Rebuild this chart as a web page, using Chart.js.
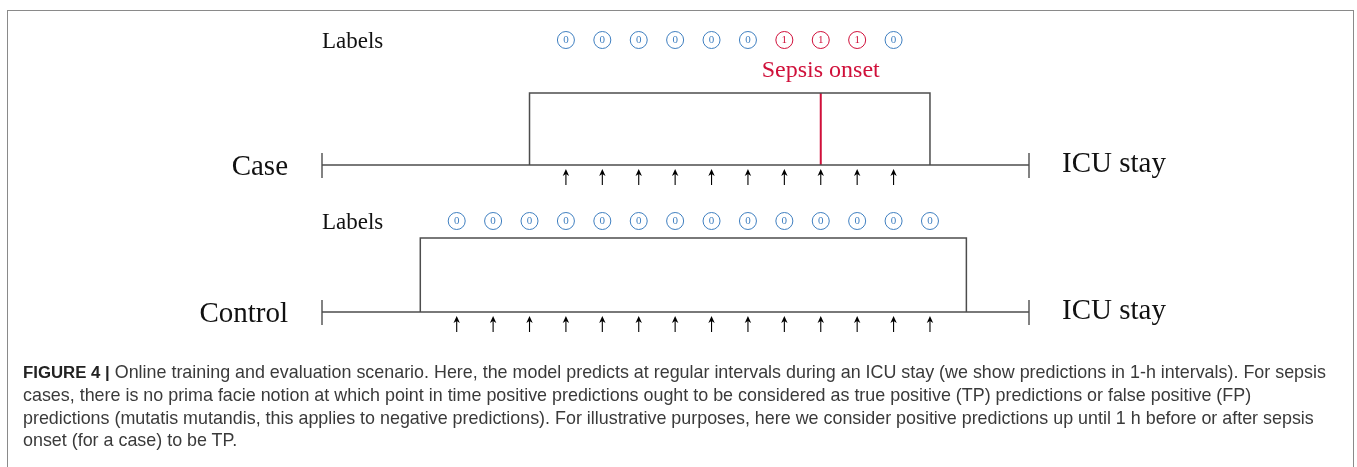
<!DOCTYPE html>
<html>
<head>
<meta charset="utf-8">
<script src="https://cdn.jsdelivr.net/npm/chart.js@4/dist/chart.umd.min.js"></script>
<style>
  html, body { margin:0; padding:0; background:#fff; }
  #wrap { position:relative; width:1357px; height:467px; overflow:hidden; }
  #frame { position:absolute; left:7px; top:10px; width:1345px; height:520px;
           border:1.5px solid #8a8a8a; border-bottom:none; }
  #diagram { position:absolute; left:0; top:0; }
  #caption { position:absolute; left:23px; top:361px; font-family:"Liberation Sans", Arial, sans-serif;
             font-size:17.9px; line-height:22.4px; color:#3a3a3a; white-space:nowrap; }
  #caption b { color:#222; font-size:16.8px; }
</style>
</head>
<body>
<div id="wrap">
  <div id="frame"></div>
  <canvas id="diagram" width="1357" height="467"></canvas>
  <div id="caption">
    <div><b>FIGURE 4 |</b> Online training and evaluation scenario. Here, the model predicts at regular intervals during an ICU stay (we show predictions in 1-h intervals). For sepsis</div>
    <div>cases, there is no prima facie notion at which point in time positive predictions ought to be considered as true positive (TP) predictions or false positive (FP)</div>
    <div>predictions (mutatis mutandis, this applies to negative predictions). For illustrative purposes, here we consider positive predictions up until 1 h before or after sepsis</div>
    <div>onset (for a case) to be TP.</div>
  </div>
</div>
<script>
// -------- data (hours since ICU admission) --------
const stayStart = 0;
const stayEnd = 19.42;

const caseWindow  = [5.7, 16.7];
const caseHours   = [6.7, 7.7, 8.7, 9.7, 10.7, 11.7, 12.7, 13.7, 14.7, 15.7];
const caseLabels  = [0, 0, 0, 0, 0, 0, 1, 1, 1, 0];
const sepsisOnset = 13.7;

const controlWindow = [2.7, 17.7];
const controlHours  = [3.7, 4.7, 5.7, 6.7, 7.7, 8.7, 9.7, 10.7, 11.7, 12.7, 13.7, 14.7, 15.7, 16.7];
const controlLabels = [0, 0, 0, 0, 0, 0, 0, 0, 0, 0, 0, 0, 0, 0];

// -------- layout / styles --------
// vertical layout of each row (y scale runs top→bottom in px units)
const ROW = {
  Case:    { line:165, top:93,  labels:40  },
  Control: { line:312, top:238, labels:221 }
};
const ONSET_TEXT_Y = 69;
const GREY = '#4d4d4d';
const BLUE = '#3f7fc0';
const RED  = '#d0103a';
const SERIF = '"Liberation Serif", "Times New Roman", serif';

const labelColor = v => v === 1 ? RED : BLUE;

function lineSet(points, color, width){
  return { type:'scatter', data:points, showLine:true, borderColor:color, borderWidth:width,
           pointRadius:0, fill:false, tension:0 };
}

function rowDatasets(name, win, hours, labels){
  const r = ROW[name];
  return [
    lineSet([{x:stayStart, y:r.line}, {x:stayEnd, y:r.line}], GREY, 1.5),
    lineSet([{x:win[0], y:r.line}, {x:win[0], y:r.top}, {x:win[1], y:r.top}, {x:win[1], y:r.line}], GREY, 1.5),
    {
      type:'scatter',
      data: hours.map(h => ({x:h, y:r.labels})),
      pointRadius:8.5, pointStyle:'circle', pointBorderWidth:1,
      pointBorderColor: labels.map(labelColor),
      pointBackgroundColor:'#fff'
    }
  ];
}

const datasets = [
  ...rowDatasets('Case', caseWindow, caseHours, caseLabels),
  lineSet([{x:sepsisOnset, y:ROW.Case.top}, {x:sepsisOnset, y:ROW.Case.line}], RED, 2),
  ...rowDatasets('Control', controlWindow, controlHours, controlLabels)
];

// ticks, arrows and text drawn on top, positioned through the chart scales
const annotate = {
  id:'annotate',
  afterDatasetsDraw(chart){
    const {ctx, scales:{x, y}} = chart;
    const rows = [
      { name:'Case', hours:caseHours, labels:caseLabels },
      { name:'Control', hours:controlHours, labels:controlLabels }
    ];
    ctx.save();
    rows.forEach(row => {
      const r = ROW[row.name];
      const ly = y.getPixelForValue(r.line);
      const x0 = x.getPixelForValue(stayStart);
      const x1 = x.getPixelForValue(stayEnd);

      // end ticks of the ICU stay
      ctx.strokeStyle = GREY; ctx.lineWidth = 1.4;
      [x0, x1].forEach(px => {
        ctx.beginPath(); ctx.moveTo(px, ly - 12); ctx.lineTo(px, ly + 13); ctx.stroke();
      });

      // prediction arrows
      ctx.strokeStyle = '#000'; ctx.fillStyle = '#000'; ctx.lineWidth = 1.1;
      row.hours.forEach(h => {
        const px = x.getPixelForValue(h);
        const top = ly + 4, bot = ly + 20;
        ctx.beginPath(); ctx.moveTo(px, top + 3); ctx.lineTo(px, bot); ctx.stroke();
        ctx.beginPath();
        ctx.moveTo(px, top);
        ctx.lineTo(px + 3.2, top + 7);
        ctx.lineTo(px, top + 5);
        ctx.lineTo(px - 3.2, top + 7);
        ctx.closePath(); ctx.fill();
      });

      // digits in label circles
      ctx.font = '11px ' + SERIF;
      ctx.textAlign = 'center'; ctx.textBaseline = 'middle';
      row.hours.forEach((h, i) => {
        ctx.fillStyle = labelColor(row.labels[i]);
        ctx.fillText(String(row.labels[i]), x.getPixelForValue(h), y.getPixelForValue(r.labels) + 0.5);
      });

      // texts
      ctx.fillStyle = '#111';
      ctx.textBaseline = 'alphabetic';
      ctx.font = '23px ' + SERIF;
      ctx.textAlign = 'left';
      ctx.fillText('Labels', x0, y.getPixelForValue(r.labels) + 7.5);
      ctx.font = '29px ' + SERIF;
      ctx.textAlign = 'right';
      ctx.fillText(row.name, x0 - 34, ly + 10);
      ctx.textAlign = 'left';
      ctx.fillText('ICU stay', x1 + 33, ly + 7);
    });

    ctx.fillStyle = RED;
    ctx.font = '24px ' + SERIF;
    ctx.textAlign = 'center';
    ctx.textBaseline = 'alphabetic';
    ctx.fillText('Sepsis onset', x.getPixelForValue(sepsisOnset), y.getPixelForValue(ONSET_TEXT_Y) + 8);
    ctx.restore();
  }
};

new Chart(document.getElementById('diagram'), {
  type:'scatter',
  data:{ datasets },
  options:{
    responsive:false, animation:false, devicePixelRatio:1,
    layout:{ autoPadding:false, padding:{ left:322, right:328, top:0, bottom:0 } },
    plugins:{ legend:{ display:false }, tooltip:{ enabled:false } },
    scales:{
      x:{ type:'linear', min:stayStart, max:stayEnd, display:false },
      y:{ type:'linear', min:0, max:467, reverse:true, display:false }
    }
  },
  plugins:[annotate]
});
</script>
</body>
</html>
